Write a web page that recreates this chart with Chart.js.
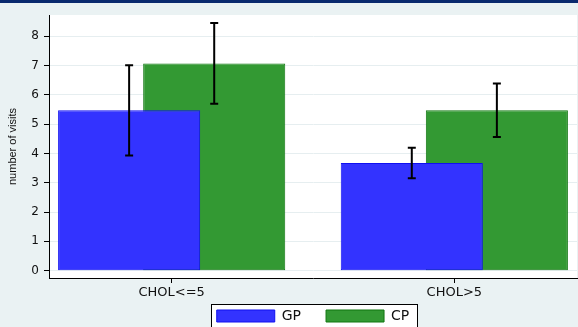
<!DOCTYPE html>
<html>
<head>
<meta charset="utf-8">
<script src="https://cdn.jsdelivr.net/npm/chart.js@4/dist/chart.umd.min.js"></script>
<style>
  html, body { margin: 0; padding: 0; background: #eaf2f3; }
  canvas { display: block; }
</style>
</head>
<body>
<canvas id="chart" width="578" height="327"></canvas>
<script>
// Mean number of visits by cholesterol group, with error bars
const categories = ['CHOL<=5', 'CHOL>5'];
const categoryPositions = [1, 2];
const seriesNames = ['GP', 'CP'];
const gpVisits = [5.47, 3.67];
const cpVisits = [7.07, 5.47];
const gpError = [1.54, 0.52];
const cpError = [1.38, 0.91];
const yTicks = [0, 1, 2, 3, 4, 5, 6, 7, 8];

const BG = '#eaf2f3';
const NAVY = '#0a2a6e';
const LEGEND_GAP = 25;     // horizontal space between legend entries
const LEGEND_INSET = 11;   // space above the legend row

// Page background, top strip, white plot region and the legend frame
const backdrop = {
  id: 'backdrop',
  afterLayout(chart) {
    // keep the wide entry spacing without pushing the row down
    const lg = chart.legend;
    if (!lg) return;
    lg.top -= LEGEND_GAP - LEGEND_INSET;
  },
  beforeDraw(chart) {
    const { ctx, chartArea: a, width } = chart;
    ctx.save();
    ctx.fillStyle = BG;
    ctx.fillRect(0, 0, width, chart.height);
    ctx.fillStyle = NAVY;
    ctx.fillRect(0, 0, width, 3);
    ctx.fillStyle = '#ffffff';
    ctx.fillRect(a.left, a.top, a.right - a.left, a.bottom - a.top);
    const hb = chart.legend && chart.legend.legendHitBoxes;
    if (hb && hb.length) {
      const first = hb[0], last = hb[hb.length - 1];
      const x0 = Math.round(first.left - 6) + 0.5;
      const x1 = Math.round(last.left + last.width + 8) + 0.5;
      const y0 = Math.round(first.top - 5) + 0.5;
      const y1 = Math.round(first.top + 18) + 0.5;
      ctx.fillStyle = '#ffffff';
      ctx.fillRect(x0, y0, x1 - x0, y1 - y0);
      ctx.strokeStyle = '#000000';
      ctx.lineWidth = 1;
      ctx.strokeRect(x0, y0, x1 - x0, y1 - y0);
    }
    ctx.restore();
  }
};

// Capped error bars centred on each bar
const errorBars = {
  id: 'errorBars',
  afterDatasetsDraw(chart) {
    const { ctx } = chart;
    const y = chart.scales.y;
    const errs = [gpError, cpError];
    const vals = [gpVisits, cpVisits];
    ctx.save();
    ctx.strokeStyle = '#000000';
    ctx.lineWidth = 2;
    chart.data.datasets.forEach((ds, i) => {
      const meta = chart.getDatasetMeta(i);
      meta.data.forEach((bar, j) => {
        const x = bar.x;
        const yTop = y.getPixelForValue(vals[i][j] + errs[i][j]);
        const yBot = y.getPixelForValue(vals[i][j] - errs[i][j]);
        const cap = 4;
        ctx.beginPath();
        ctx.moveTo(x, yTop); ctx.lineTo(x, yBot);
        ctx.moveTo(x - cap, yTop); ctx.lineTo(x + cap, yTop);
        ctx.moveTo(x - cap, yBot); ctx.lineTo(x + cap, yBot);
        ctx.stroke();
      });
    });
    ctx.restore();
  }
};

const toPoints = (vals) => vals.map((v, i) => ({ x: categoryPositions[i], y: v }));

new Chart(document.getElementById('chart'), {
  type: 'bar',
  data: {
    datasets: [
      {
        label: seriesNames[0],
        data: toPoints(gpVisits),
        backgroundColor: '#3333ff',
        borderColor: '#1010f0',
        borderWidth: 1,
        borderSkipped: false
      },
      {
        label: seriesNames[1],
        data: toPoints(cpVisits),
        backgroundColor: '#339933',
        borderColor: '#117711',
        borderWidth: 1,
        borderSkipped: false
      }
    ]
  },
  options: {
    responsive: false,
    animation: false,
    events: [],
    categoryPercentage: 0.602,
    barPercentage: 1.67,
    layout: { padding: { top: 15, right: 1, left: 0, bottom: 0 } },
    plugins: {
      tooltip: { enabled: false },
      legend: {
        position: 'bottom',
        fullSize: false,
        maxHeight: 29,
        labels: {
          boxWidth: 58,
          boxHeight: 12,
          padding: LEGEND_GAP,
          color: '#111111',
          font: { family: 'DejaVu Sans', size: 14 }
        }
      }
    },
    scales: {
      x: {
        type: 'linear',
        offset: false,
        min: 0.566,
        max: 2.434,
        afterBuildTicks(scale) {
          scale.ticks = categoryPositions.map(v => ({ value: v }));
        },
        afterFit(scale) { scale.height = 20; },
        grid: {
          offset: false,
          drawOnChartArea: false,
          drawTicks: true,
          tickLength: 5,
          tickColor: '#000000'
        },
        border: { display: true, color: '#000000', width: 1 },
        ticks: {
          padding: 2,
          color: '#111111',
          font: { family: 'DejaVu Sans', size: 13 },
          maxRotation: 0,
          autoSkip: false,
          callback(value) {
            const k = categoryPositions.indexOf(value);
            return k >= 0 ? categories[k] : '';
          }
        }
      },
      y: {
        min: -0.25,
        max: 8.72,
        afterBuildTicks(scale) {
          scale.ticks = yTicks.map(v => ({ value: v }));
        },
        afterFit(scale) { scale.width = 49; },
        grid: {
          color: '#e6eef0',
          lineWidth: 1,
          drawTicks: true,
          tickLength: 5,
          tickColor: '#000000'
        },
        border: { display: true, color: '#000000', width: 1 },
        ticks: {
          padding: 5,
          color: '#111111',
          font: { family: 'DejaVu Sans', size: 12 }
        },
        title: {
          display: true,
          text: 'number of visits',
          color: '#111111',
          padding: { top: 6, bottom: 0 },
          font: { family: 'Liberation Sans', size: 11 }
        }
      }
    }
  },
  plugins: [backdrop, errorBars]
});
</script>
</body>
</html>
